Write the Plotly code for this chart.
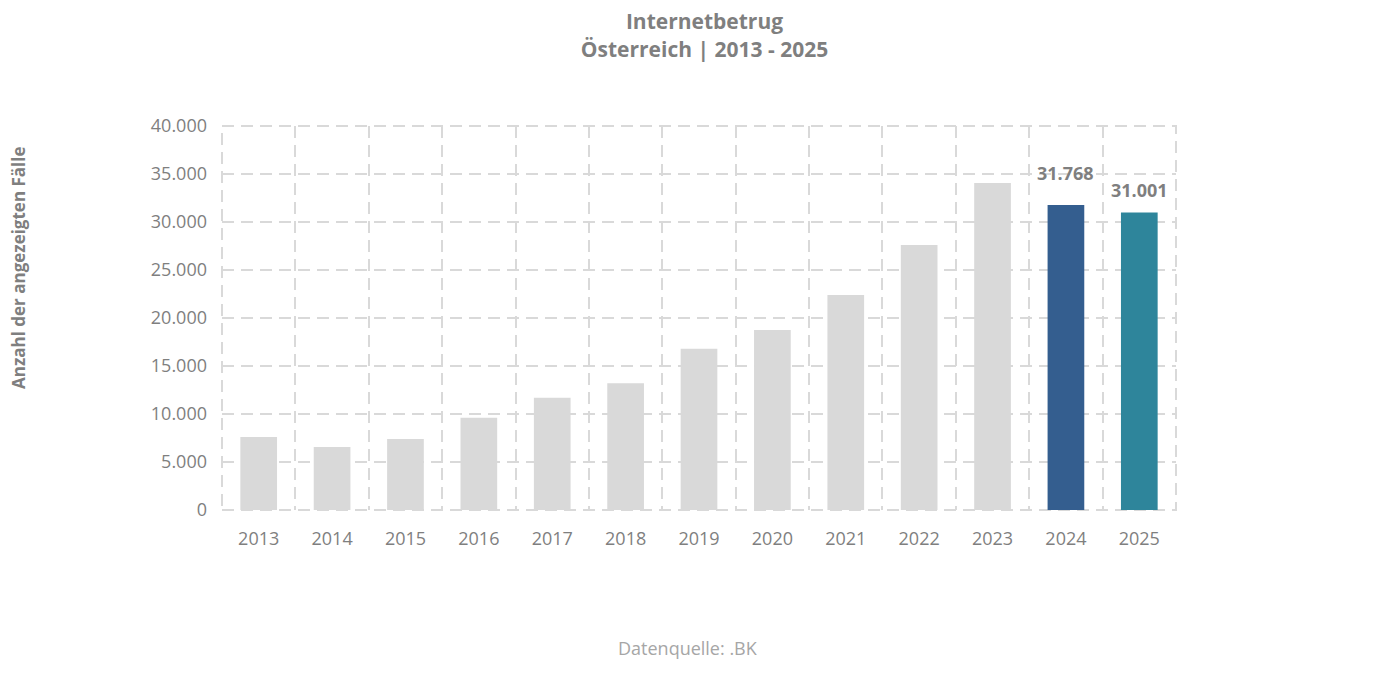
import plotly.graph_objects as go

# Internetbetrug in Österreich, angezeigte Fälle
jahre = ["2013", "2014", "2015", "2016", "2017", "2018", "2019",
         "2020", "2021", "2022", "2023", "2024", "2025"]
faelle = [7600, 6560, 7400, 9600, 11700, 13200, 16800,
          18750, 22400, 27600, 34060, 31768, 31001]
beschriftet = ["2024", "2025"]

grau = "#7F7F7F"
gitter = "#D9D9D9"
strich = "12px,7px"
farben = ["#D9D9D9"] * 11 + ["#345E8F", "#2E859B"]
label_shift = {"2024": 18, "2025": 8}  # px above the bar top

fig = go.Figure()
fig.add_trace(go.Bar(
    x=jahre,
    y=faelle,
    marker=dict(color=farben, line=dict(width=0)),
    hoverinfo="x+y",
))

# data labels over the highlighted bars (x as category index, the
# year strings would otherwise be read as numbers)
for i, (j, v) in enumerate(zip(jahre, faelle)):
    if j in beschriftet:
        fig.add_annotation(x=i, y=v, text="<b>" + "{:,}".format(v).replace(",", ".") + "</b>",
                           showarrow=False, yanchor="bottom", yshift=label_shift[j],
                           font=dict(size=18, color=grau, family="Open Sans"),
                           )

fig.add_annotation(text="<b>Anzahl der angezeigten Fälle</b>", textangle=-90,
                   xref="paper", yref="paper", x=-0.214, y=0.63,
                   xanchor="center", yanchor="middle", showarrow=False,
                   font=dict(size=17, color=grau, family="Open Sans"))
fig.add_annotation(text="Datenquelle: .BK", xref="paper", yref="paper",
                   x=0.488, y=-0.397, showarrow=False,
                   font=dict(size=18, color="#A6A6A6", family="Open Sans"))

# plotly drops the gridlines on the plot edges, so draw the frame
fig.add_shape(type="rect", xref="paper", yref="paper", x0=0, x1=1, y0=0, y1=1,
              line=dict(color=gitter, width=2, dash=strich), layer="below")

# page body adds ~8px offset, margins compensate
fig.update_layout(
    width=1393, height=693,
    paper_bgcolor="white", plot_bgcolor="white",
    separators=",.",
    showlegend=False,
    bargap=0.5,
    margin=dict(l=214, r=225, t=118, b=191, autoexpand=False),
    title=dict(text="<b>Internetbetrug<br>Österreich | 2013 - 2025</b>",
               x=0.5, xanchor="center", y=0.969, yanchor="middle",
               font=dict(size=21, color=grau, family="Open Sans")),
    font=dict(family="Open Sans", color=grau, size=18),
)
fig.update_xaxes(
    type="category", tickson="boundaries", showgrid=True,
    gridcolor=gitter, gridwidth=2, griddash=strich,
    ticks="", showline=False, zeroline=False, tickangle=0,
    tickfont=dict(size=18, color=grau), ticklabelstandoff=16,
)
fig.update_yaxes(
    range=[0, 40000], dtick=5000, tickformat=",.0f",
    showgrid=True, gridcolor=gitter, gridwidth=2, griddash=strich,
    zeroline=False, showline=False, ticks="", ticklabelstandoff=14,
    tickfont=dict(size=18, color=grau),
)

fig.write_html("out.html")
